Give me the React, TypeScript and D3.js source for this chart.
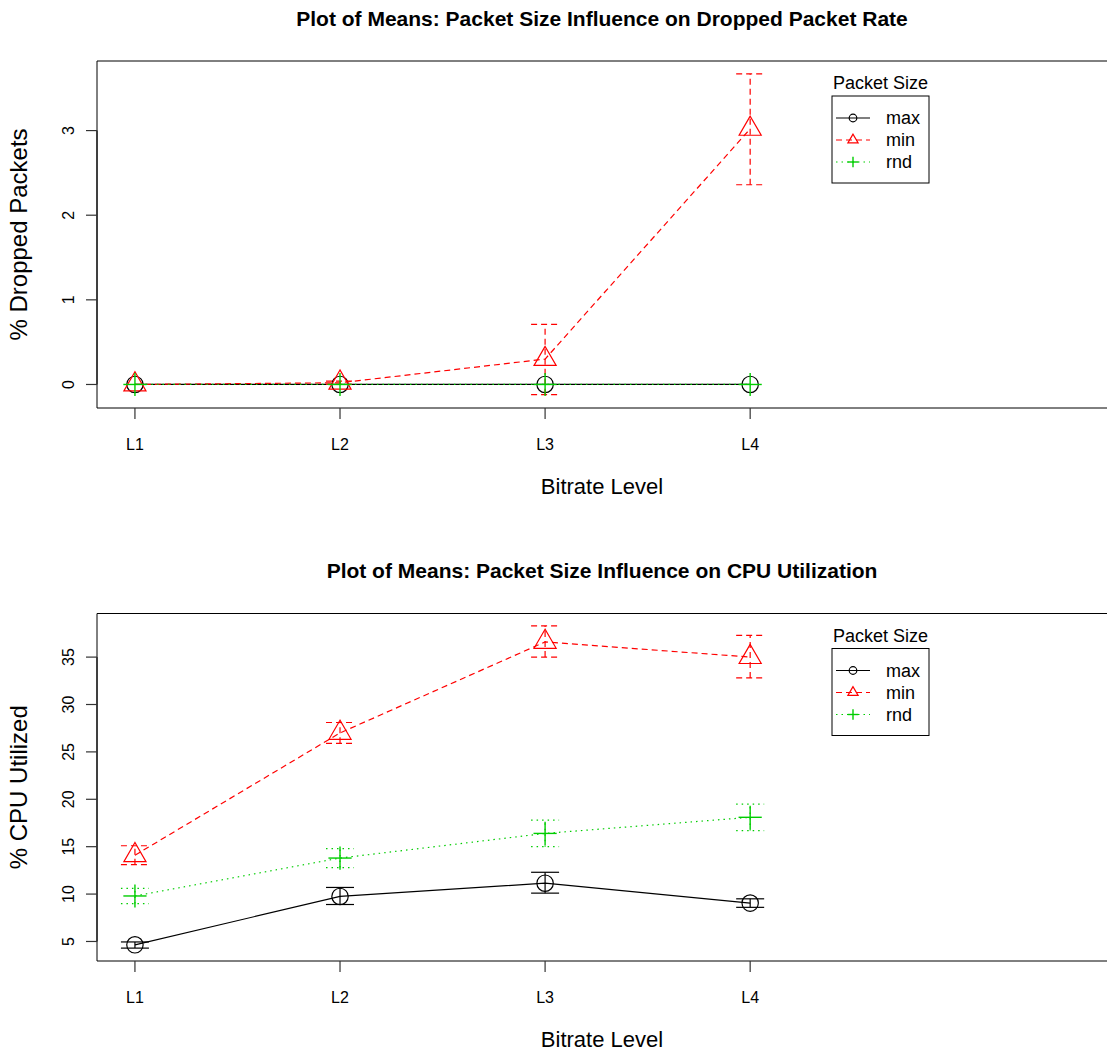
import React from "react";
import * as d3 from "d3";

const levels = ["L1", "L2", "L3", "L4"];
const seriesNames = ["max", "min", "rnd"];

// Dropped packets (%)
const dropMax = [0, 0, 0, 0];
const dropMaxLo = [0, 0, 0, 0];
const dropMaxHi = [0, 0, 0, 0];
const dropMin = [0, 0.02, 0.3, 3.02];
const dropMinLo = [0, 0.0, -0.12, 2.36];
const dropMinHi = [0, 0.04, 0.71, 3.67];
const dropRnd = [0, 0, 0, 0];
const dropRndLo = [0, 0, 0, 0];
const dropRndHi = [0, 0, 0, 0];
const dropTicks = [0, 1, 2, 3];

// CPU utilization (%)
const cpuMax = [4.65, 9.75, 11.15, 9.05];
const cpuMaxLo = [4.3, 8.9, 10.1, 8.6];
const cpuMaxHi = [4.95, 10.7, 12.3, 9.5];
const cpuMin = [14.1, 27.0, 36.6, 35.0];
const cpuMinLo = [13.1, 25.9, 35.0, 32.8];
const cpuMinHi = [15.1, 28.1, 38.3, 37.3];
const cpuRnd = [9.8, 13.8, 16.4, 18.1];
const cpuRndLo = [9.0, 12.8, 15.0, 16.7];
const cpuRndHi = [10.6, 14.8, 17.8, 19.5];
const cpuTicks = [5, 10, 15, 20, 25, 30, 35];

const FONT = "'Liberation Sans', Arial, Helvetica, sans-serif";
const styles: Record<string, { color: string; dash: string; shape: string }> = {
  max: { color: "#000000", dash: "", shape: "circle" },
  min: { color: "#FF0000", dash: "6,4", shape: "triangle" },
  rnd: { color: "#00CD00", dash: "1.5,4", shape: "plus" },
};

type Series = { name: string; mean: number[]; lo: number[]; hi: number[] };

function Marker({ shape, x, y, s, color }: { shape: string; x: number; y: number; s: number; color: string }) {
  if (shape === "circle") return <circle cx={x} cy={y} r={s} fill="none" stroke={color} strokeWidth={1.2} />;
  if (shape === "triangle") {
    const pts = [
      [x, y - 1.555 * s],
      [x - 1.347 * s, y + 0.778 * s],
      [x + 1.347 * s, y + 0.778 * s],
    ];
    return <polygon points={pts.map((p) => p.join(",")).join(" ")} fill="none" stroke={color} strokeWidth={1.2} />;
  }
  const h = 1.414 * s;
  return (
    <g stroke={color} strokeWidth={1.4}>
      <line x1={x - h} x2={x + h} y1={y} y2={y} />
      <line x1={x} x2={x} y1={y - h} y2={y + h} />
    </g>
  );
}

function Panel({ top, bottom, title, ylabel, yDomain, yTicks, series }: {
  top: number; bottom: number; title: string; ylabel: string; yDomain: [number, number]; yTicks: number[]; series: Series[];
}) {
  const left = 97;
  const right = 1107;
  const x = d3.scaleLinear().domain([0.815, 5.74]).range([left, right]);
  const y = d3.scaleLinear().domain(yDomain).range([bottom, top]);
  const line = d3.line<number>().x((_, i) => x(i + 1)).y((d) => y(d));
  const cx = (left + right) / 2;
  const capW = 14;
  const lx = 832, lw = 97;
  const legTop = top + 35;
  return (
    <g>
      <text x={cx} y={top - 43} textAnchor="middle" dominantBaseline="central" fontWeight="bold" fontSize={21} fontFamily={FONT}>{title}</text>
      {/* box */}
      <path d={`M${right + 2},${top}H${left}V${bottom}H${right + 2}`} fill="none" stroke="#000" strokeWidth={1} />
      {/* y axis */}
      <line x1={left} x2={left} y1={y(yTicks[0])} y2={y(yTicks[yTicks.length - 1])} stroke="#000" />
      {yTicks.map((t) => (
        <g key={t}>
          <line x1={left - 11} x2={left} y1={y(t)} y2={y(t)} stroke="#333" strokeWidth={1.2} />
          <text transform={`translate(68,${y(t)}) rotate(-90)`} textAnchor="middle" dominantBaseline="central" fontSize={16} fontFamily={FONT}>{t}</text>
        </g>
      ))}
      {/* x axis */}
      {levels.map((l, i) => (
        <g key={l}>
          <line x1={x(i + 1)} x2={x(i + 1)} y1={bottom} y2={bottom + 11} stroke="#333" strokeWidth={1.2} />
          <text x={x(i + 1)} y={bottom + 36} textAnchor="middle" dominantBaseline="central" fontSize={16} fontFamily={FONT}>{l}</text>
        </g>
      ))}
      <text x={cx} y={bottom + 78} textAnchor="middle" dominantBaseline="central" fontSize={22} fontFamily={FONT}>Bitrate Level</text>
      <text transform={`translate(18,${(top + bottom) / 2}) rotate(-90)`} textAnchor="middle" dominantBaseline="central" fontSize={24} fontFamily={FONT}>{ylabel}</text>
      {/* series */}
      {series.map((s) => {
        const st = styles[s.name];
        return (
          <g key={s.name}>
            <path d={line(s.mean) || ""} fill="none" stroke={st.color} strokeWidth={1.2} strokeDasharray={st.dash} />
            {s.mean.map((m, i) => {
              const xi = x(i + 1);
              if (s.hi[i] - s.lo[i] < 1e-9) return null;
              return (
                <g key={i} stroke={st.color} strokeWidth={1.2} strokeDasharray={st.dash}>
                  <line x1={xi} x2={xi} y1={y(s.lo[i])} y2={y(s.hi[i])} />
                  <line x1={xi - capW} x2={xi + capW} y1={y(s.lo[i])} y2={y(s.lo[i])} />
                  <line x1={xi - capW} x2={xi + capW} y1={y(s.hi[i])} y2={y(s.hi[i])} />
                </g>
              );
            })}
            {s.mean.map((m, i) => (
              <Marker key={"m" + i} shape={st.shape} x={x(i + 1)} y={y(m)} s={8.2} color={st.color} />
            ))}
          </g>
        );
      })}
      {/* legend */}
      <text x={lx + lw / 2} y={legTop - 7} textAnchor="middle" fontSize={18} fontFamily={FONT}>Packet Size</text>
      <rect x={lx} y={legTop} width={lw} height={87} fill="white" stroke="#000" strokeWidth={1} />
      {seriesNames.map((n, i) => {
        const st = styles[n];
        const ry = legTop + 22 + i * 22;
        return (
          <g key={n}>
            <line x1={836} x2={870} y1={ry} y2={ry} stroke={st.color} strokeWidth={1.2} strokeDasharray={st.dash} />
            <Marker shape={st.shape} x={853} y={ry} s={3.8} color={st.color} />
            <text x={886} y={ry} dominantBaseline="central" fontSize={18} fontFamily={FONT}>{n}</text>
          </g>
        );
      })}
    </g>
  );
}

export default function App() {
  const dropSeries: Series[] = [
    { name: "max", mean: dropMax, lo: dropMaxLo, hi: dropMaxHi },
    { name: "min", mean: dropMin, lo: dropMinLo, hi: dropMinHi },
    { name: "rnd", mean: dropRnd, lo: dropRndLo, hi: dropRndHi },
  ];
  const cpuSeries: Series[] = [
    { name: "max", mean: cpuMax, lo: cpuMaxLo, hi: cpuMaxHi },
    { name: "min", mean: cpuMin, lo: cpuMinLo, hi: cpuMinHi },
    { name: "rnd", mean: cpuRnd, lo: cpuRndLo, hi: cpuRndHi },
  ];
  return (
    <svg width={1107} height={1051} style={{ position: "absolute", left: 0, top: 0, background: "white" }}>
      <rect width={1107} height={1051} fill="white" />
      <Panel top={61} bottom={408} title="Plot of Means: Packet Size Influence on Dropped Packet Rate" ylabel="% Dropped Packets" yDomain={[-0.278, 3.822]} yTicks={dropTicks} series={dropSeries} />
      <Panel top={613.5} bottom={961} title="Plot of Means: Packet Size Influence on CPU Utilization" ylabel="% CPU Utilized" yDomain={[2.94, 39.6]} yTicks={cpuTicks} series={cpuSeries} />
    </svg>
  );
}
